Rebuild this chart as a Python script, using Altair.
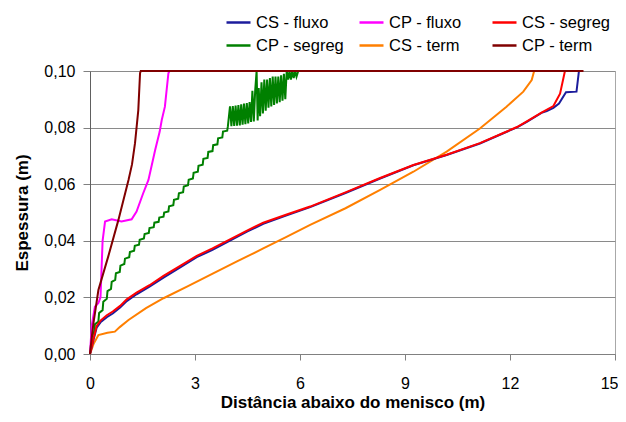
import altair as alt
import pandas as pd

series_names = ["CS - fluxo", "CP - fluxo", "CS - segreg", "CP - segreg", "CS - term", "CP - term"]
series_colors = ["#1c1c9c", "#ff00ff", "#ff0000", "#008000", "#ff7f00", "#800000"]
draw_order = ["CS - term", "CP - segreg", "CP - fluxo", "CS - fluxo", "CS - segreg", "CP - term"]
x_ticks = [0, 3, 6, 9, 12, 15]
y_ticks = [0.0, 0.02, 0.04, 0.06, 0.08, 0.10]

cs_fluxo_x = [0, 0.1, 0.19, 0.3, 0.48, 0.65, 0.86, 1.05, 1.33, 1.7, 2.1, 2.6, 3.05, 3.5, 4.0, 4.5,
              4.95, 5.6, 6.29, 7.3, 8.29, 9.24, 10.19, 11.14, 11.81, 12.2, 12.48, 12.9, 13.05,
              13.24, 13.4, 13.6, 13.9, 13.97]
cs_fluxo_y = [0, 0.005, 0.0093, 0.0112, 0.013, 0.0143, 0.0164, 0.0187, 0.0211, 0.0238, 0.027,
              0.0308, 0.0342, 0.0368, 0.0401, 0.0433, 0.046, 0.0489, 0.0519, 0.0569, 0.062, 0.0667,
              0.0703, 0.0744, 0.078, 0.0801, 0.082, 0.0852, 0.0858, 0.087, 0.0885, 0.0925,
              0.0927, 0.1]

cs_segreg_x = [0, 0.1, 0.19, 0.3, 0.48, 0.65, 0.86, 1.05, 1.33, 1.7, 2.1, 2.6, 3.05, 3.5, 4.0, 4.5,
               4.95, 5.6, 6.29, 7.3, 8.29, 9.24, 10.19, 11.14, 11.81, 12.2, 12.48, 12.9, 13.24,
               13.43, 13.57]
cs_segreg_y = [0, 0.0055, 0.0099, 0.0118, 0.0137, 0.015, 0.017, 0.0193, 0.0217, 0.0243, 0.0276,
               0.0313, 0.0347, 0.0373, 0.0405, 0.0437, 0.0464, 0.0492, 0.0521, 0.0571, 0.0622,
               0.0668, 0.0704, 0.0745, 0.0781, 0.0802, 0.0822, 0.0853, 0.0876, 0.092, 0.1]

cs_term_x = [0, 0.1, 0.24, 0.5, 0.71, 0.85, 1.1, 1.6, 2.1, 2.8, 3.52, 4.2, 4.95, 5.6, 6.29, 7.3,
             8.29, 9.24, 10.19, 11.14, 11.9, 12.38, 12.62, 12.69]
cs_term_y = [0, 0.0035, 0.0067, 0.0075, 0.0079, 0.0095, 0.012, 0.0162, 0.0197, 0.024, 0.0285,
             0.0327, 0.0373, 0.0413, 0.0456, 0.0515, 0.058, 0.0644, 0.0715, 0.0797, 0.0874,
             0.0927, 0.0968, 0.1]

cp_fluxo_x = [0, 0.05, 0.14, 0.24, 0.3, 0.36, 0.43, 0.62, 0.9, 1.19, 1.33, 1.52, 1.67, 1.86,
              1.99, 2.05, 2.14, 2.24, 2.27]
cp_fluxo_y = [0, 0.01, 0.0167, 0.018, 0.02, 0.04, 0.0468, 0.0476, 0.0468, 0.0476, 0.0503,
              0.0568, 0.0615, 0.072, 0.0785, 0.0827, 0.0874, 0.0992, 0.1]

cp_term_x = [0, 0.05, 0.1, 0.24, 0.52, 0.81, 1.1, 1.2, 1.286, 1.38, 1.43, 1.45, 14.1]
cp_term_y = [0, 0.006, 0.011, 0.0226, 0.0344, 0.0473, 0.0615, 0.067, 0.0745, 0.0862, 0.0992,
             0.1, 0.1]

cp_segreg_x = [0, 0.05, 0.12, 0.14, 0.24, 0.26, 0.36, 0.38, 0.48, 0.5, 0.6, 0.62, 0.72, 0.74,
               0.85, 0.87, 0.98, 1.0, 1.12, 1.14, 1.26, 1.28, 1.4, 1.42, 1.54, 1.56, 1.68, 1.7,
               1.82, 1.84, 1.96, 1.98, 2.1, 2.12, 2.24, 2.26, 2.38, 2.4, 2.52, 2.54, 2.66, 2.68,
               2.8, 2.82, 2.94, 2.96, 3.08, 3.1, 3.22, 3.24, 3.36, 3.38, 3.5, 3.52, 3.64, 3.66,
               3.78, 3.8, 3.92, 3.94,
               4.0, 4.04, 4.08, 4.12, 4.16, 4.2, 4.24, 4.28, 4.32, 4.36, 4.4, 4.44, 4.48, 4.52,
               4.56, 4.6, 4.64, 4.68, 4.72, 4.76, 4.79, 4.82, 4.86, 4.9, 4.94, 4.98, 5.02, 5.06,
               5.1, 5.14, 5.18, 5.22, 5.26, 5.3, 5.34, 5.38, 5.42, 5.46, 5.5, 5.54, 5.58, 5.62,
               5.66, 5.7, 5.74, 5.78, 5.82, 5.86, 5.9, 5.95]
cp_segreg_y = [0, 0.006, 0.008, 0.0105, 0.0115, 0.0145, 0.0155, 0.0185, 0.0195, 0.0222, 0.023,
               0.0255, 0.0262, 0.0285, 0.029, 0.0312, 0.0318, 0.0337, 0.0342, 0.036, 0.0365,
               0.0382, 0.0386, 0.0404, 0.0408, 0.0424, 0.0428, 0.0445, 0.0448, 0.0464, 0.0467,
               0.0482, 0.0485, 0.05, 0.0504, 0.0522, 0.0526, 0.0545, 0.0549, 0.0568, 0.0572,
               0.0592, 0.0596, 0.0616, 0.062, 0.064, 0.0644, 0.0665, 0.0669, 0.069, 0.0693,
               0.0714, 0.0717, 0.0738, 0.0741, 0.0762, 0.0765, 0.0786, 0.0789, 0.0805,
               0.0875, 0.0805, 0.0876, 0.0806, 0.0878, 0.0807, 0.088, 0.0808, 0.0882, 0.081,
               0.0885, 0.0812, 0.0887, 0.0815, 0.089, 0.082, 0.093, 0.0822, 0.0932, 0.1,
               0.0825, 0.094, 0.084, 0.096, 0.085, 0.097, 0.086, 0.097, 0.087, 0.0975, 0.0875,
               0.098, 0.088, 0.098, 0.0885, 0.098, 0.089, 0.0985, 0.0895, 0.099, 0.09, 0.1,
               0.097, 0.1, 0.097, 0.1, 0.0975, 0.1, 0.098, 0.1, 0.099, 0.1]

series_data = {
    "CS - fluxo": (cs_fluxo_x, cs_fluxo_y),
    "CP - fluxo": (cp_fluxo_x, cp_fluxo_y),
    "CS - segreg": (cs_segreg_x, cs_segreg_y),
    "CP - segreg": (cp_segreg_x, cp_segreg_y),
    "CS - term": (cs_term_x, cs_term_y),
    "CP - term": (cp_term_x, cp_term_y),
}

rows = []
for name, (xs, ys) in series_data.items():
    for i, (x, y) in enumerate(zip(xs, ys)):
        rows.append({"serie": name, "dist": x, "esp": y, "ordem": i})
df = pd.DataFrame(rows)

FONT = "Liberation Sans"

base = alt.Chart(df).mark_line(strokeWidth=2).encode(
    x=alt.X("dist:Q", scale=alt.Scale(domain=[0, 15], nice=False),
            axis=alt.Axis(values=x_ticks, title="Distância abaixo do menisco (m)", grid=False,
                          tickSize=6, labelPadding=15, titlePadding=3, labelFlush=False,
                          labelAlign={"condition": {"test": "datum.value == 15", "value": "right"},
                                      "value": "center"},
                          labelOffset={"condition": {"test": "datum.value == 15", "value": 3},
                                       "value": 0})),
    y=alt.Y("esp:Q", scale=alt.Scale(domain=[0, 0.1], nice=False),
            axis=alt.Axis(values=y_ticks, title="Espessura (m)", grid=True,
                          labelExpr="replace(format(datum.value, '.2f'), '.', ',')",
                          tickSize=7, labelPadding=8, titlePadding=12, labelFlush=False,
                          domainColor="#606060")),
    color=alt.Color("serie:N", scale=alt.Scale(domain=series_names, range=series_colors),
                    legend=alt.Legend(title=None, orient="none", legendX=135, legendY=-62,
                                      columns=3, direction="horizontal", gridAlign="all",
                                      symbolType="stroke",
                                      symbolSize=576, symbolStrokeWidth=2.5, labelFontSize=16.5,
                                      labelFont=FONT, labelColor="#000", columnPadding=9,
                                      rowPadding=1, labelOffset=4)),
    order="ordem:Q",
)

layers = [base.transform_filter(alt.datum.serie == n) for n in draw_order]

chart = alt.layer(*layers).properties(
    width=525, height=283,
    autosize=alt.AutoSizeParams(type="none"),
    padding={"left": 82, "top": 63, "right": 3, "bottom": 60},
).configure_view(stroke="#a8a8a8", strokeWidth=1).configure_axis(
    labelFont=FONT, labelFontSize=16, labelColor="#000",
    titleFont=FONT, titleFontSize=17, titleFontWeight="bold", titleColor="#000",
    domainColor="#808080", tickColor="#808080", gridColor="#8a8a8a", gridWidth=1,
)

chart.save("out.html", embed_options={"renderer": "svg", "actions": False})
